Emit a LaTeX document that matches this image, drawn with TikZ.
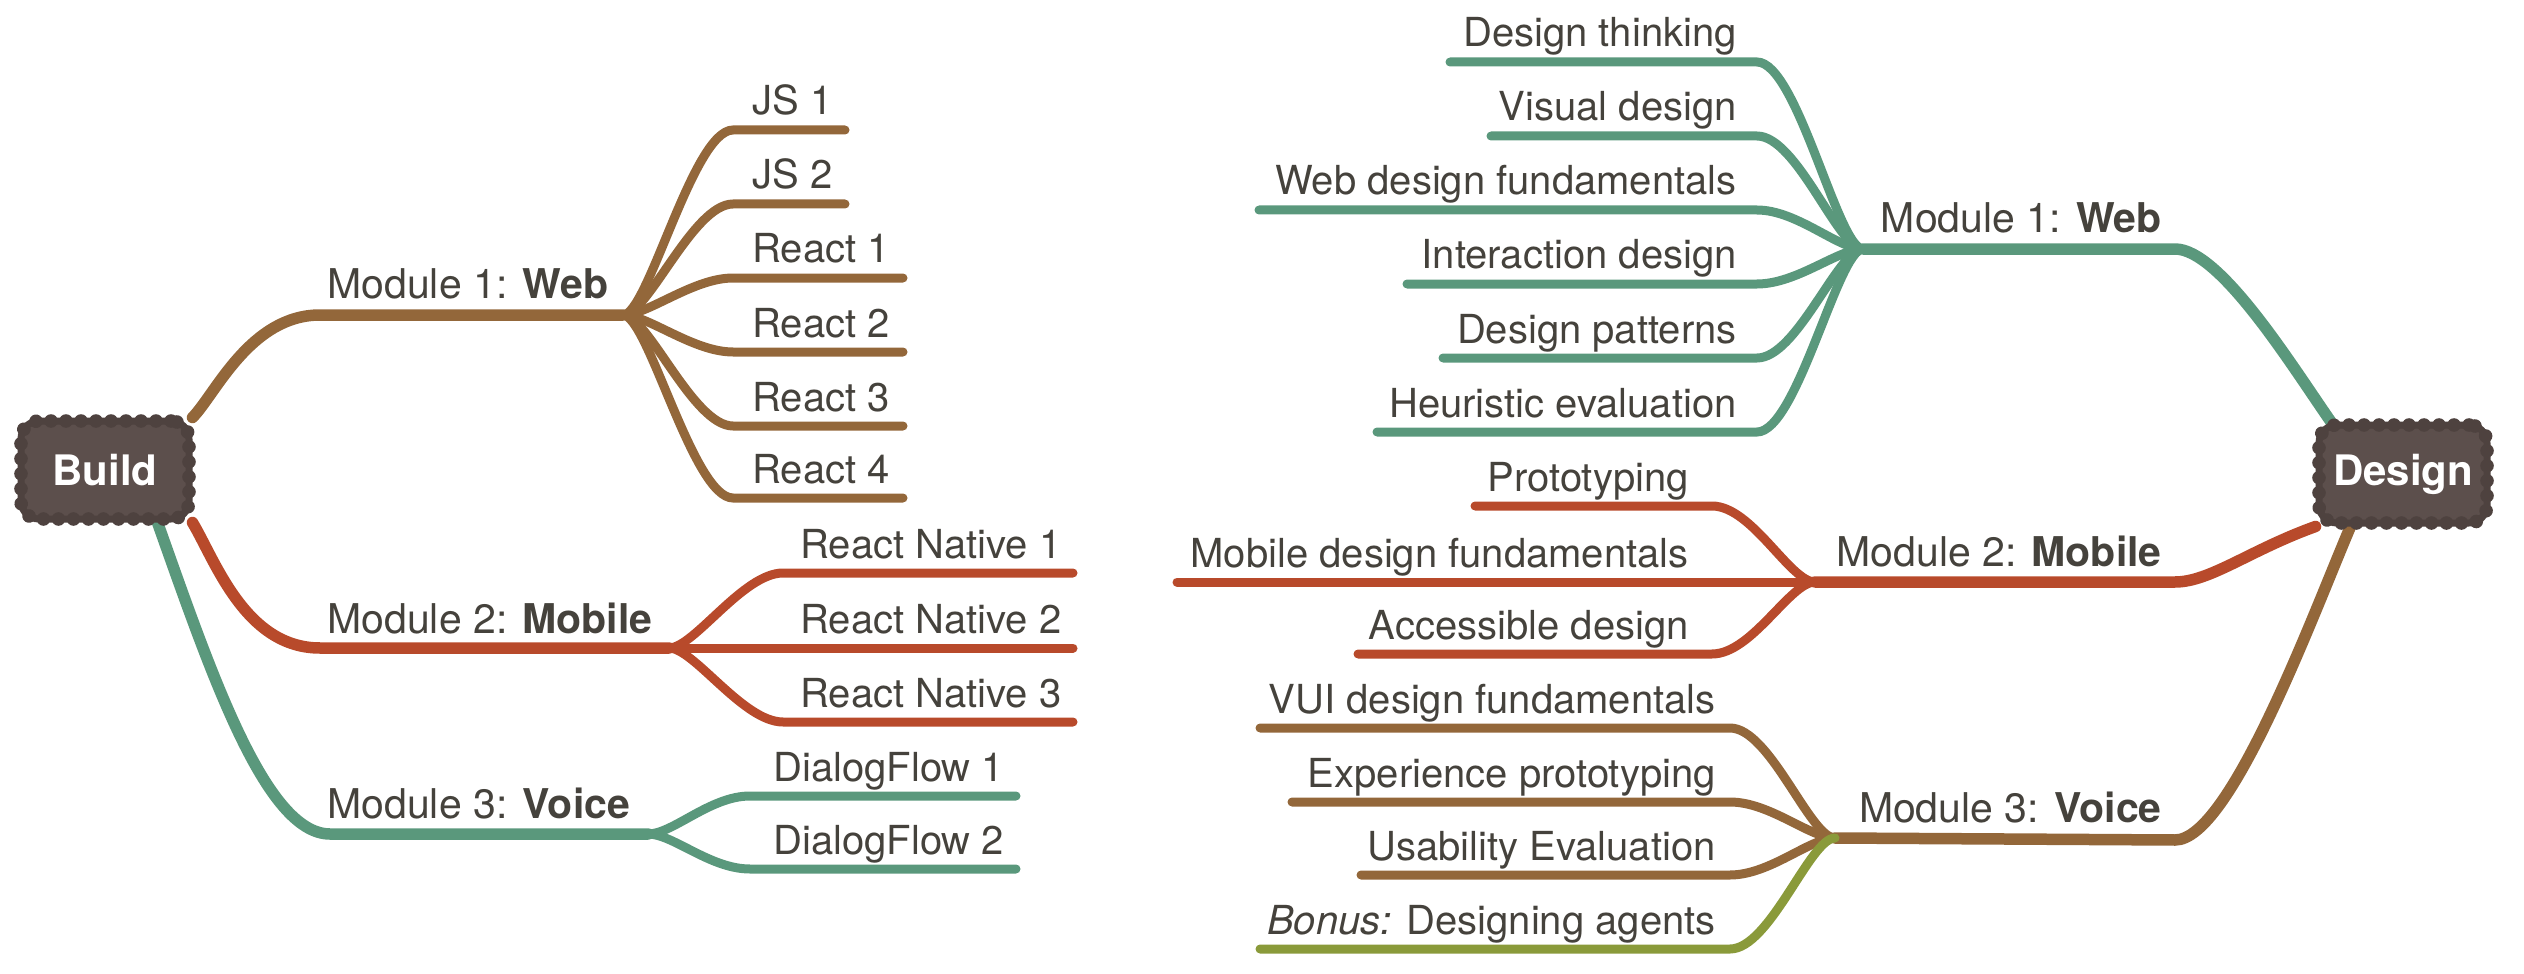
\documentclass[tikz,border=0pt]{standalone}
\usepackage{fontspec}
\setmainfont{TeX Gyre Heros}
\usetikzlibrary{decorations.markings,backgrounds}

\definecolor{brownline}{RGB}{147,103,58}
\definecolor{redline}{RGB}{184,74,43}
\definecolor{greenline}{RGB}{90,152,124}
\definecolor{oliveline}{RGB}{138,154,58}
\definecolor{labeltext}{RGB}{69,66,60}
\definecolor{rootfill}{RGB}{92,79,76}
\definecolor{rootedge}{RGB}{78,66,63}

\tikzset{
  root/.style={rectangle, rounded corners=9pt, minimum width=84pt, minimum height=49pt,
    fill=rootfill, draw=rootedge, line width=3.5pt, text=white,
    font=\fontsize{21}{25}\selectfont\bfseries,
    postaction={decorate, decoration={markings,
      mark=between positions 0 and 1 step 7.5pt with {\fill[rootedge] (0,0) circle (3.4pt);}}}},
  leaf/.style={text=labeltext, inner sep=0pt, font=\fontsize{20}{24}\selectfont},
  module/.style={text=labeltext, inner sep=0pt, font=\fontsize{20.5}{24}\selectfont},
  twig/.style={line width=4.5pt, line cap=round},
  limb/.style={line width=5.75pt, line cap=round},
}

\begin{document}
\begin{tikzpicture}[x=0.5pt,y=0.5pt,yscale=-1]
\useasboundingbox (0,0) rectangle (2524,974);

%Root nodes
\node[root] (build) at (105,470) {Build};
\node[root] (design) at (2403,474) {Design};

%Branch points
\coordinate (bweb) at (623,315);
\coordinate (bmob) at (669,648);
\coordinate (bvoi) at (648,834);
\coordinate (dweb) at (1863,249);
\coordinate (dmob) at (1815,582);
\coordinate (dvoi) at (1835,838);

%Module labels
\node[module, anchor=base west] (bwebl) at (327,299) {Module 1: \textbf{Web}};
\node[module, anchor=base west] (bmobl) at (327,633) {Module 2: \textbf{Mobile}};
\node[module, anchor=base west] (bvoil) at (327,818) {Module 3: \textbf{Voice}};
\node[module, anchor=base east] (dwebl) at (2162,233) {Module 1: \textbf{Web}};
\node[module, anchor=base east] (dmobl) at (2162,566) {Module 2: \textbf{Mobile}};
\node[module, anchor=base east] (dvoil) at (2162,822) {Module 3: \textbf{Voice}};

%Limbs, behind the roots
\begin{scope}[on background layer]
\draw[limb, brownline] (build.north east) .. controls (215,395) and (250,315) .. (320,315) -- (bweb);
\draw[limb, redline] (build.south east) .. controls (215,560) and (245,648) .. (320,648) -- (bmob);
\draw[limb, greenline] (build.-45) .. controls (210,670) and (265,834) .. (330,834) -- (bvoi);
\draw[limb, greenline] (dweb) -- (2175,249) .. controls (2220,249) and (2292,366) .. (design.144);
\draw[limb, redline] (dmob) -- (2175,582) .. controls (2210,582) and (2250,550) .. (design.south west);
\draw[limb, brownline] (dvoi) -- (2175,840) .. controls (2230,840) and (2312,617) .. (design.-135);
\end{scope}

%Build: Web
\foreach \y/\xe/\txt [count=\i] in {130/845/JS 1, 204/845/JS 2, 278/903/React 1,
    352/903/React 2, 426/903/React 3, 498/903/React 4}{
  \node[leaf, anchor=base west] (bw\i) at (752,\y-15) {\txt};
  \coordinate (bwe\i) at (\xe,\y);
  \draw[twig, brownline] (bweb) .. controls +(25,0) and +(-40,0) .. (733,\y) -- (bwe\i);
}
%Build: Mobile
\foreach \y/\txt [count=\i] in {573/React Native 1, 648/React Native 2, 722/React Native 3}{
  \node[leaf, anchor=base west] (bm\i) at (800,\y-15) {\txt};
  \coordinate (bme\i) at (1073,\y);
  \draw[twig, redline] (bmob) .. controls +(25,0) and +(-40,0) .. (783,\y) -- (bme\i);
}
%Build: Voice
\foreach \y/\txt [count=\i] in {796/DialogFlow 1, 869/DialogFlow 2}{
  \node[leaf, anchor=base west] (bv\i) at (773,\y-15) {\txt};
  \coordinate (bve\i) at (1016,\y);
  \draw[twig, greenline] (bvoi) .. controls +(25,0) and +(-40,0) .. (750,\y) -- (bve\i);
}

%Design: Web
\foreach \y/\xl/\txt [count=\i] in {62/1450/Design thinking, 136/1491/Visual design,
    210/1259/Web design fundamentals, 284/1407/Interaction design,
    358/1443/Design patterns, 432/1377/Heuristic evaluation}{
  \node[leaf, anchor=base east] (dw\i) at (1737,\y-15) {\txt};
  \coordinate (dwe\i) at (\xl,\y);
  \draw[twig, greenline] (dweb) .. controls +(-25,0) and +(40,0) .. (1757,\y) -- (dwe\i);
}
%Design: Mobile
\foreach \y/\xl/\txt [count=\i] in {506/1475/Prototyping, 582/1177/Mobile design fundamentals,
    654/1358/Accessible design}{
  \node[leaf, anchor=base east] (dm\i) at (1689,\y-15) {\txt};
  \coordinate (dme\i) at (\xl,\y);
  \draw[twig, redline] (dmob) .. controls +(-25,0) and +(40,0) .. (1712,\y) -- (dme\i);
}
%Design: Voice
\foreach \y/\xl/\col/\txt [count=\i] in {728/1260/brownline/VUI design fundamentals,
    802/1292/brownline/Experience prototyping, 875/1361/brownline/Usability Evaluation,
    949/1260/oliveline/\textit{Bonus:} Designing agents}{
  \node[leaf, anchor=base east] (dv\i) at (1716,\y-15) {\txt};
  \coordinate (dve\i) at (\xl,\y);
  \draw[twig, color=\col] (dvoi) .. controls +(-25,0) and +(40,0) .. (1730,\y) -- (dve\i);
}

\end{tikzpicture}
\end{document}
